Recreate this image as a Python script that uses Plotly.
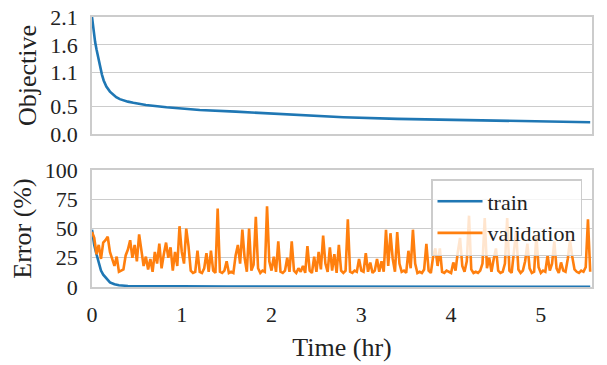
import numpy as np
import plotly.graph_objects as go
from plotly.subplots import make_subplots

BLUE = "#1f77b4"
ORANGE = "#ff7f0e"
FONT = "Liberation Serif, Times New Roman, serif"
TXT = "#222222"

# objective (train)
obj_t = [0, 0.01, 0.02, 0.035, 0.05, 0.07, 0.09, 0.11, 0.13, 0.16, 0.2, 0.24,
         0.27, 0.31, 0.35, 0.4, 0.46, 0.6, 0.83, 1.2, 1.6, 1.95, 2.35, 2.8, 3.4,
         4.0, 4.5, 5.0, 5.55]
obj_train = [2.1, 1.95, 1.8, 1.65, 1.52, 1.35, 1.2, 1.07, 0.96, 0.85, 0.76, 0.7,
             0.66, 0.625, 0.6, 0.58, 0.56, 0.52, 0.48, 0.43, 0.40, 0.37, 0.33, 0.30, 0.27,
             0.25, 0.24, 0.225, 0.21]

# train error (%)
err_t = [0, 0.025, 0.05, 0.075, 0.1, 0.125, 0.15, 0.2, 0.25, 0.3, 0.4, 0.6,
         1.0, 1.5, 2.0, 2.5, 3.0, 3.5, 4.0, 4.5, 5.0, 5.55]
err_train = [49, 36, 28, 20, 14, 10.5, 8, 4, 2.3, 1.5, 0.9, 0.6,
             0.5, 0.4, 0.4, 0.3, 0.3, 0.3, 0.3, 0.2, 0.2, 0.2]

# validation error (%), one value every 0.025 hr
val_step = 0.025
err_val = [
    # 0.0 - 1.0 hr
    47, 42, 28, 36, 24, 38, 40, 43, 30, 24, 18, 26, 13, 14, 15, 27, 32, 40, 25, 36,
    22, 45, 30, 18, 26, 15, 24, 13, 30, 20, 37, 16, 28, 38, 25, 34, 14, 30, 18, 52,
    # 1.0 - 2.0 hr
    30, 20, 50, 35, 14, 12, 13, 31, 13, 12, 16, 29, 13, 31, 14, 12, 67, 13, 12, 14,
    22, 12, 13, 12, 27, 36, 20, 49, 25, 13, 50, 14, 19, 60, 16, 12, 14, 13, 69, 22,
    # 2.0 - 3.0 hr
    14, 26, 13, 39, 13, 12, 14, 25, 13, 39, 14, 12, 16, 13, 18, 12, 35, 14, 12, 26,
    13, 30, 15, 44, 20, 13, 34, 14, 28, 12, 36, 14, 12, 14, 58, 13, 12, 14, 13, 24,
    # 3.0 - 4.0 hr
    14, 13, 29, 13, 21, 12, 14, 24, 13, 22, 13, 49, 18, 46, 24, 13, 47, 20, 13, 14,
    12, 31, 16, 49, 20, 12, 13, 12, 15, 37, 14, 12, 26, 33, 18, 33, 13, 12, 14, 13,
    # 4.0 - 5.0 hr
    12, 21, 14, 30, 42, 18, 13, 22, 61, 15, 12, 13, 12, 14, 20, 59, 16, 25, 13, 24,
    33, 14, 12, 13, 20, 59, 14, 12, 30, 48, 15, 12, 14, 22, 37, 16, 12, 13, 44, 17,
    # 5.0 - 5.55 hr
    12, 14, 13, 27, 14, 20, 39, 16, 12, 21, 14, 13, 24, 40, 26, 15, 13, 12, 14, 13,
    17, 58, 13,
]
val_t = np.arange(len(err_val)) * val_step

obj_ticks = [0.0, 0.5, 1.1, 1.6, 2.1]
err_ticks = [0, 25, 50, 75, 100]
time_ticks = [0, 1, 2, 3, 4, 5]

fig = make_subplots(rows=2, cols=1, shared_xaxes=True, vertical_spacing=0.13)

fig.add_trace(go.Scatter(x=obj_t, y=obj_train, mode="lines", name="train",
                         line=dict(color=BLUE, width=2.6), showlegend=False),
              row=1, col=1)
fig.add_trace(go.Scatter(x=err_t, y=err_train, mode="lines", name="train",
                         line=dict(color=BLUE, width=2.6)),
              row=2, col=1)
fig.add_trace(go.Scatter(x=val_t, y=err_val, mode="lines", name="validation",
                         line=dict(color=ORANGE, width=2.6)),
              row=2, col=1)

axis_style = dict(showline=True, mirror=True, linecolor="#cccccc", linewidth=1.5,
                  gridcolor="#cccccc", gridwidth=1, zeroline=False, automargin=False,
                  ticks="outside", tickcolor="rgba(0,0,0,0)", ticklabeloverflow="allow",
                  tickfont=dict(family=FONT, size=22, color=TXT))
title_font = dict(family=FONT, size=26, color=TXT)

fig.update_xaxes(**axis_style, range=[0, 5.57], showgrid=False, tickvals=time_ticks,
                 ticklen=7)
fig.update_xaxes(showticklabels=False, row=1, col=1)
fig.update_xaxes(title=dict(text="Time (hr)", font=title_font, standoff=12), row=2, col=1)

fig.update_yaxes(**axis_style, ticklen=8)
fig.update_yaxes(range=[0, 2.1], tickvals=obj_ticks, tickformat=".1f",
                 domain=[0.567, 1.0],
                 title=dict(text="Objective", font=title_font, standoff=6), row=1, col=1)
fig.update_yaxes(range=[0, 100], tickvals=err_ticks, domain=[0.0, 0.433],
                 title=dict(text="Error (%)", font=title_font, standoff=6), row=2, col=1)

# page body adds an 8px offset, so the figure is a bit smaller than the window
fig.update_layout(
    width=599, height=357,
    margin=dict(l=84, r=15, t=9, b=78),
    plot_bgcolor="white", paper_bgcolor="white",
    font=dict(family=FONT, size=22, color=TXT),
    legend=dict(x=0.98, y=0.4, xanchor="right", yanchor="top", itemwidth=45,
                bgcolor="rgba(255,255,255,0.8)", bordercolor="#cccccc", borderwidth=1.5,
                font=dict(family=FONT, size=22, color=TXT), tracegroupgap=0),
)

fig.write_html("out.html")
